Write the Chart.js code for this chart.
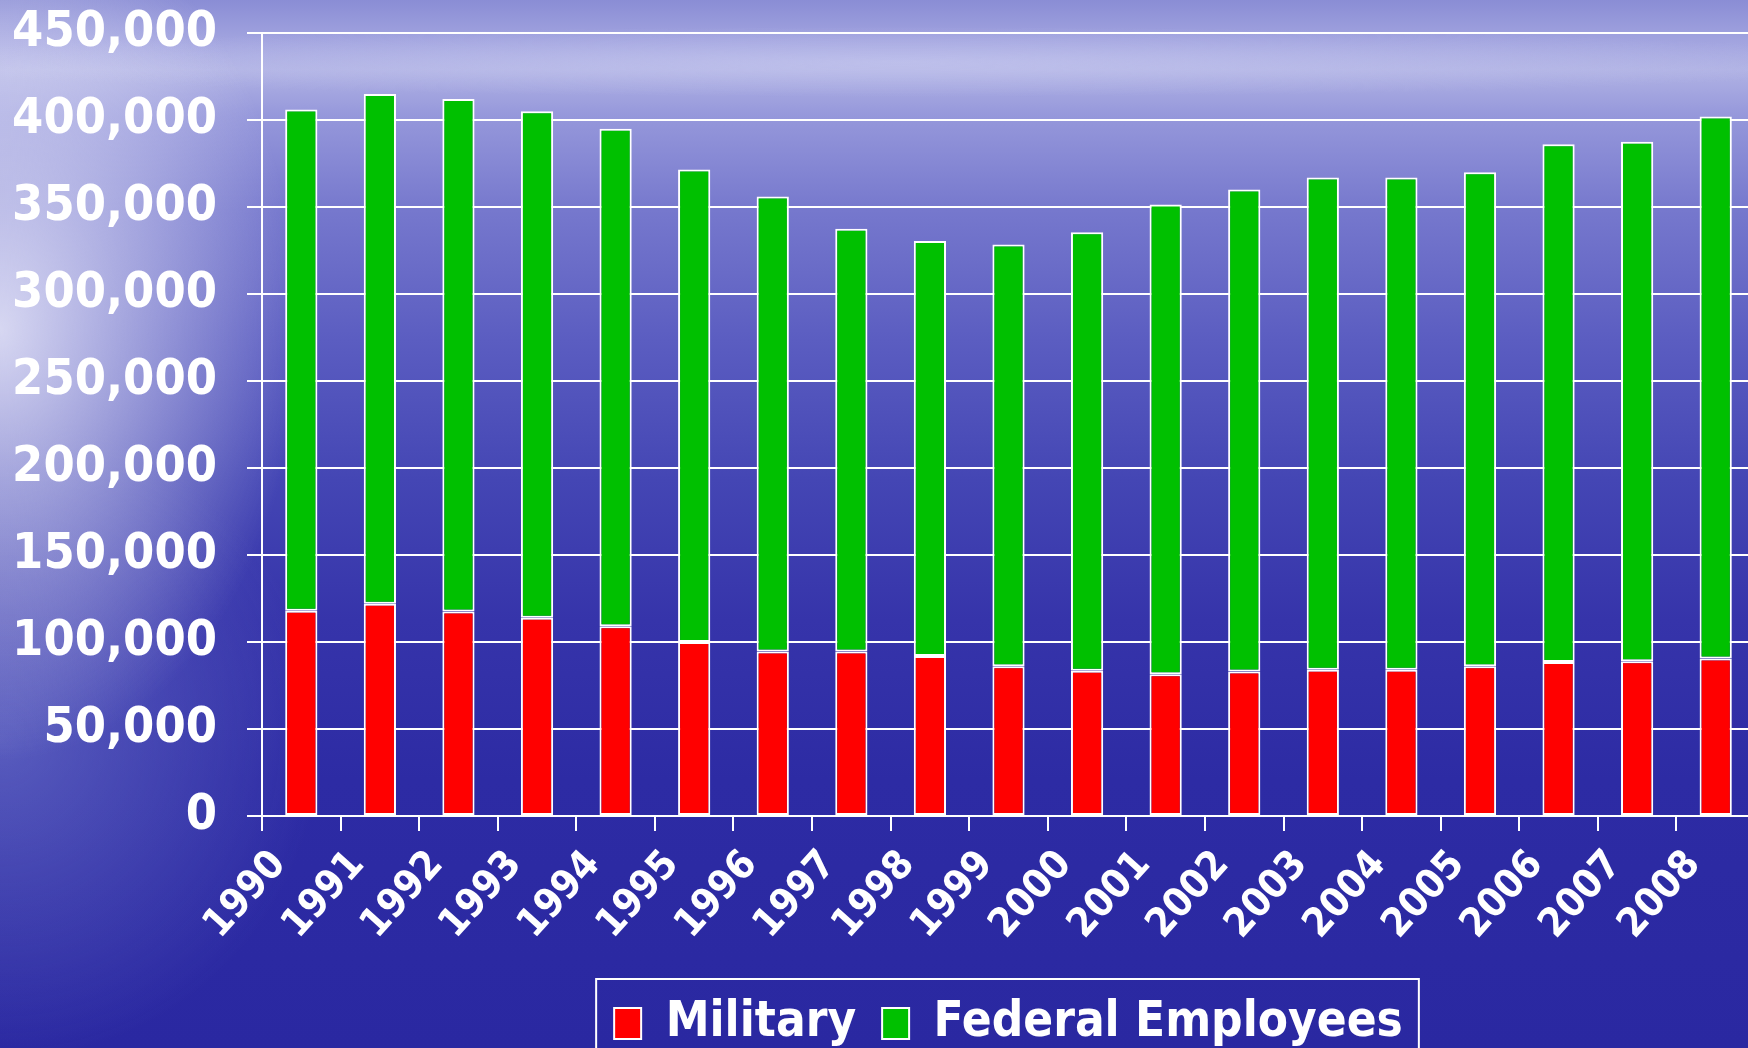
<!DOCTYPE html>
<html><head><meta charset="utf-8">
<script src="https://cdn.jsdelivr.net/npm/chart.js@4.4.0/dist/chart.umd.min.js"></script>
<style>
html,body{margin:0;padding:0;width:1748px;height:1048px;overflow:hidden;}
body{
background:
 radial-gradient(ellipse 300px 430px at 0px 330px, rgba(236,236,250,0.85), rgba(236,236,250,0) 100%),
 radial-gradient(ellipse 320px 320px at 0px 740px, rgba(140,150,220,0.45), rgba(140,150,220,0) 100%),
 radial-gradient(ellipse 1000px 35px at 900px 62px, rgba(205,207,242,0.5), rgba(205,207,242,0) 100%),
 linear-gradient(to bottom, #8a8dd5 0px, #a4a6e0 45px, #b0b2e4 70px, #9698db 115px, #7678cd 210px, #5b5dc1 340px, #4446b4 480px, #3634aa 620px, #2d2ba4 780px, #2a28a1 1048px);
}
#wrap{position:absolute;left:0;top:0;width:1760px;height:1058px;}
</style></head><body>
<div id="wrap"><canvas id="c" width="1760" height="1058"></canvas></div>
<script>
const years = ['1990','1991','1992','1993','1994','1995','1996','1997','1998','1999','2000','2001','2002','2003','2004','2005','2006','2007','2008'];
const military = [118000,122000,117500,114000,109000,100000,94500,94500,92000,86000,83500,81500,83000,84000,84000,86000,88500,89000,90500];
const federal = [288000,293000,294500,291000,286000,271500,261500,243000,238500,242500,252000,270000,277000,283000,283000,284000,297500,298500,311500];
const seriesNames = ['Military','Federal Employees'];
const yMin = 0, yMax = 450000, yStep = 50000;

const FONT = "'DejaVu Sans Condensed', 'Open Sans', sans-serif";

const legendBox = {
  id: 'legendBox',
  afterDraw(chart) {
    const boxes = chart.legend && chart.legend.legendHitBoxes;
    if (!boxes || !boxes.length) return;
    let x0 = Infinity, x1 = -Infinity, y0 = Infinity, y1 = -Infinity;
    boxes.forEach(b => { x0 = Math.min(x0, b.left); x1 = Math.max(x1, b.left + b.width); y0 = Math.min(y0, b.top); y1 = Math.max(y1, b.top + b.height); });
    const ctx = chart.ctx;
    ctx.save();
    ctx.strokeStyle = '#ffffff';
    ctx.lineWidth = 2;
    ctx.strokeRect(x0 - 18, y0 - 20, (x1 - x0) + 34, (y1 - y0) + 60);
    ctx.restore();
  }
};

new Chart(document.getElementById('c'), {
  type: 'bar',
  data: {
    labels: years,
    datasets: [
      { label: seriesNames[0], data: military, backgroundColor: '#ff0000', borderColor: '#ffffff', borderWidth: 2, borderSkipped: false, barPercentage: 0.41, categoryPercentage: 1 },
      { label: seriesNames[1], data: federal, backgroundColor: '#00c000', borderColor: '#ffffff', borderWidth: 2, borderSkipped: false, barPercentage: 0.41, categoryPercentage: 1 }
    ]
  },
  options: {
    responsive: false,
    animation: false,
    layout: { padding: { top: 33, right: 5, left: 0, bottom: 0 } },
    plugins: {
      tooltip: { enabled: false },
      legend: {
        position: 'bottom',
        fullSize: false,
        labels: {
          color: '#ffffff',
          font: { family: FONT, size: 49, weight: 'bold' },
          boxWidth: 27, boxHeight: 31, padding: 26
        }
      }
    },
    scales: {
      x: {
        stacked: true,
        offset: true,
        grid: { offset: true, drawOnChartArea: false, drawTicks: true, tickLength: 15, color: '#ffffff', lineWidth: 2 },
        border: { display: true, color: '#ffffff', width: 2 },
        ticks: { color: '#ffffff', font: { family: FONT, size: 40, weight: 'bold' }, minRotation: 48, maxRotation: 48, labelOffset: -22, padding: 11, autoSkip: false },
        afterFit(s) { s.height = 157; s.paddingLeft = 0; s.paddingRight = 0; }
      },
      y: {
        stacked: true,
        min: yMin, max: yMax,
        grid: { color: '#ffffff', lineWidth: 2, tickLength: 15, drawTicks: true },
        border: { display: true, color: '#ffffff', width: 2 },
        ticks: { stepSize: yStep, color: '#ffffff', font: { family: FONT, size: 50, weight: 'bold' }, padding: 30,
          callback: v => Number(v).toLocaleString('en-US') },
        afterFit(s) { s.width = 262; s.paddingTop = 0; s.paddingBottom = 0; }
      }
    }
  },
  plugins: [legendBox]
});
</script>
</body></html>
